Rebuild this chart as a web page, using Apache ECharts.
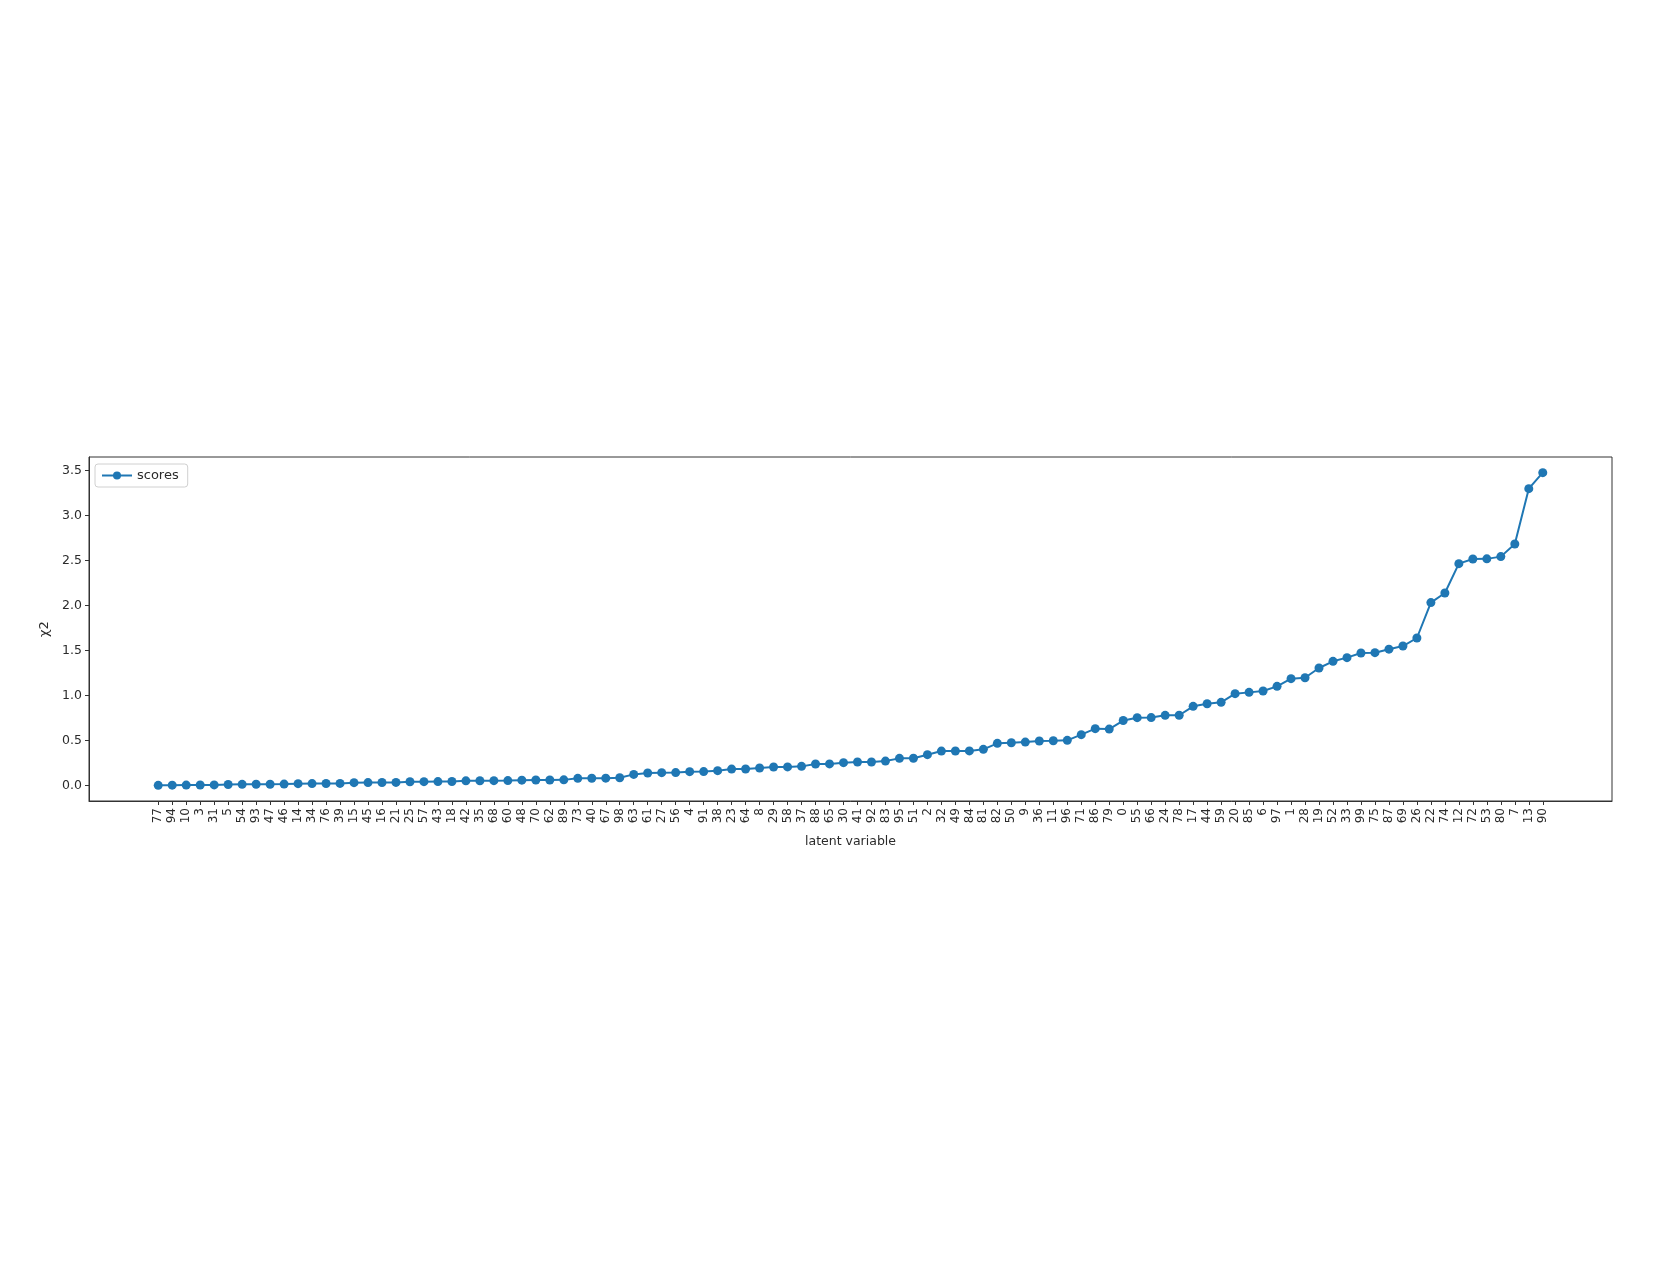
<!DOCTYPE html>
<html>
<head>
<meta charset="utf-8">
<script src="https://cdn.jsdelivr.net/npm/echarts@6/dist/echarts.min.js"></script>
<style>
html,body{margin:0;padding:0;background:#fff;}
#chart{width:1661px;height:1283px;}
</style>
</head>
<body>
<div id="chart"></div>
<script>
var categories = ["77","94","10","3","31","5","54","93","47","46",
  "14","34","76","39","15","45","16","21","25","57",
  "43","18","42","35","68","60","48","70","62","89",
  "73","40","67","98","63","61","27","56","4","91",
  "38","23","64","8","29","58","37","88","65","30",
  "41","92","83","95","51","2","32","49","84","81",
  "82","50","9","36","11","96","71","86","79","0",
  "55","66","24","78","17","44","59","20","85","6",
  "97","1","28","19","52","33","99","75","87","69",
  "26","22","74","12","72","53","80","7","13","90"];
var scores = [0.000,0.002,0.003,0.004,0.005,0.010,0.011,0.012,0.013,0.014,
  0.019,0.020,0.021,0.022,0.030,0.031,0.032,0.033,0.040,0.041,
  0.042,0.043,0.050,0.051,0.052,0.053,0.058,0.059,0.060,0.061,
  0.078,0.079,0.080,0.084,0.122,0.137,0.141,0.142,0.152,0.153,
  0.163,0.181,0.182,0.193,0.204,0.205,0.211,0.237,0.238,0.252,
  0.259,0.260,0.270,0.300,0.301,0.341,0.381,0.382,0.383,0.400,
  0.467,0.474,0.481,0.493,0.496,0.500,0.563,0.630,0.625,0.720,
  0.752,0.753,0.778,0.779,0.878,0.907,0.922,1.019,1.033,1.048,
  1.100,1.185,1.196,1.304,1.378,1.419,1.470,1.474,1.513,1.548,
  1.637,2.030,2.137,2.463,2.515,2.516,2.541,2.681,3.296,3.474];
var yTicks = [0.0,0.5,1.0,1.5,2.0,2.5,3.0,3.5];
var seriesName = "scores";
var xTitle = "latent variable";
var yTitle = "\u03c72";

var xIdx = categories.map(function(c,i){return i;});
var points = scores.map(function(v,i){return [i,v];});
var n = categories.length;
var xPad = (n-1)*0.05;
var yPad = (Math.max.apply(null,scores)-Math.min.apply(null,scores))*0.05;

var textColor = '#2b2b2b';
var axisColor = '#333';
var chart = echarts.init(document.getElementById('chart'), null, {renderer:'canvas'});
chart.setOption({
  animation:false,
  backgroundColor:'#fff',
  grid:{left:89,top:457,right:49,bottom:482,show:true,borderColor:axisColor,borderWidth:1,containLabel:false},
  legend:{
    left:95, top:464, orient:'vertical',
    data:[seriesName],
    backgroundColor:'#fff', borderColor:'#d0d0d0', borderWidth:1, borderRadius:3,
    padding:[5,9,5,6], itemWidth:30, itemHeight:10, itemGap:4,
    textStyle:{fontFamily:'DejaVu Sans', fontSize:13, color:textColor}
  },
  xAxis:{
    type:'value', min:-xPad, max:(n-1)+xPad,
    name:xTitle, nameLocation:'middle', nameGap:34,
    nameTextStyle:{fontFamily:'DejaVu Sans', fontSize:12.5, color:textColor},
    axisLine:{show:true,onZero:false,lineStyle:{color:axisColor,width:1}},
    axisTick:{show:true,length:4,inside:false,customValues:xIdx,lineStyle:{color:axisColor,width:1}},
    axisLabel:{show:true,rotate:90,margin:7,customValues:xIdx,
      fontFamily:'DejaVu Sans',fontSize:12,color:textColor,hideOverlap:false,
      showMinLabel:true, showMaxLabel:true,
      formatter:function(v){var i=Math.round(v);return categories[i]!==undefined?categories[i]:'';}},
    splitLine:{show:false}
  },
  yAxis:{
    type:'value', min:-yPad, max:Math.max.apply(null,scores)+yPad,
    name:yTitle, nameLocation:'middle', nameGap:37, nameRotate:90,
    nameTextStyle:{fontFamily:'DejaVu Sans', fontSize:13, color:textColor},
    axisLine:{show:true,onZero:false,lineStyle:{color:axisColor,width:1}},
    axisTick:{show:true,length:4,inside:false,customValues:yTicks,lineStyle:{color:axisColor,width:1}},
    axisLabel:{show:true,margin:7,customValues:yTicks,
      fontFamily:'DejaVu Sans',fontSize:12.5,color:textColor,
      formatter:function(v){return v.toFixed(1);}},
    splitLine:{show:false}
  },
  series:[{
    name:seriesName, type:'line', data:points,
    symbol:'circle', symbolSize:9, showSymbol:true,
    itemStyle:{color:'#1f77b4'},
    lineStyle:{color:'#1f77b4', width:2},
    z:3
  }]
});
</script>
</body>
</html>
